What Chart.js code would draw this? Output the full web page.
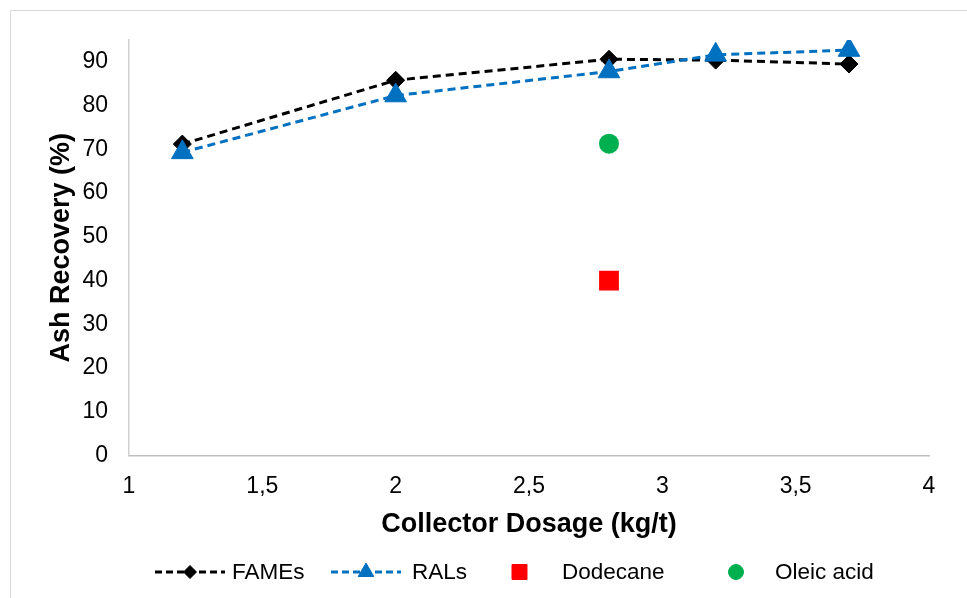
<!DOCTYPE html>
<html>
<head>
<meta charset="utf-8">
<script src="https://cdn.jsdelivr.net/npm/chart.js@4.4.1/dist/chart.umd.min.js"></script>
<style>
  html, body { margin: 0; padding: 0; background: #ffffff; }
  #wrap { width: 967px; height: 598px; position: relative; }
</style>
</head>
<body>
<div id="wrap"><canvas id="chart" width="967" height="598"></canvas></div>
<script>
// Collector dosage (kg/t) and ash recovery (%) per collector
const famesDosage = [1.2, 2.0, 2.8, 3.2, 3.7];
const famesRecovery = [71.2, 85.8, 90.6, 90.4, 89.5];
const ralsDosage = [1.2, 2.0, 2.8, 3.2, 3.7];
const ralsRecovery = [69.3, 82.3, 87.8, 91.6, 92.7];
const dodecaneDosage = [2.8];
const dodecaneRecovery = [40];
const oleicDosage = [2.8];
const oleicRecovery = [71.3];

const xTicks = [1, 1.5, 2, 2.5, 3, 3.5, 4];
const yTicks = [0, 10, 20, 30, 40, 50, 60, 70, 80, 90];

const FONT = "'Liberation Sans', Arial, sans-serif";
const BLACK = '#000000';
const BLUE = '#0070C0';
const RED = '#FF0000';
const GREEN = '#00B050';

const toPoints = (xs, ys) => xs.map((x, i) => ({ x: x, y: ys[i] }));

// Outer frame of the chart
const framePlugin = {
  id: 'frame',
  beforeDraw(chart) {
    const ctx = chart.ctx;
    ctx.save();
    ctx.fillStyle = '#ffffff';
    ctx.fillRect(0, 0, chart.width, chart.height);
    ctx.strokeStyle = '#d9d9d9';
    ctx.lineWidth = 1;
    ctx.strokeRect(10.5, 10.5, chart.width + 20, chart.height + 20);
    ctx.restore();
  }
};

// Legend row below the axis title
const legendPlugin = {
  id: 'bottomLegend',
  afterDraw(chart) {
    const ctx = chart.ctx;
    const y = 572;
    const items = [
      { ds: 0, line: true, cx: 190, tx: 232, r: 6.5 },
      { ds: 1, line: true, cx: 366, tx: 412, r: 9 },
      { ds: 2, line: false, cx: 519.5, tx: 562, r: 10.6 },
      { ds: 3, line: false, cx: 736, tx: 775, r: 7.5 }
    ];
    ctx.save();
    items.forEach(it => {
      const d = chart.data.datasets[it.ds];
      if (it.line) {
        ctx.save();
        ctx.strokeStyle = d.borderColor;
        ctx.lineWidth = 3;
        ctx.setLineDash([7, 4]);
        ctx.beginPath();
        ctx.moveTo(it.cx - 35, y);
        ctx.lineTo(it.cx + 35, y);
        ctx.stroke();
        ctx.restore();
      }
      ctx.save();
      ctx.fillStyle = d.pointBackgroundColor;
      ctx.strokeStyle = d.pointBorderColor;
      ctx.lineWidth = 1;
      Chart.helpers.drawPoint(ctx, { pointStyle: d.pointStyle, radius: it.r, borderWidth: 1, rotation: 0 }, it.cx, y);
      ctx.restore();
      ctx.fillStyle = BLACK;
      ctx.font = '22.5px ' + FONT;
      ctx.textAlign = 'left';
      ctx.textBaseline = 'middle';
      ctx.fillText(d.label, it.tx, y + 1);
    });
    ctx.restore();
  }
};

new Chart(document.getElementById('chart'), {
  type: 'scatter',
  data: {
    datasets: [
      {
        label: 'FAMEs',
        data: toPoints(famesDosage, famesRecovery),
        showLine: true,
        borderColor: BLACK,
        borderWidth: 3,
        borderDash: [8, 5],
        pointStyle: 'rectRot',
        pointRadius: 9,
        pointBackgroundColor: BLACK,
        pointBorderColor: BLACK,
        pointBorderWidth: 1,
        order: 4
      },
      {
        label: 'RALs',
        data: toPoints(ralsDosage, ralsRecovery),
        showLine: true,
        borderColor: BLUE,
        borderWidth: 3,
        borderDash: [8, 5],
        pointStyle: 'triangle',
        pointRadius: 12.5,
        pointBackgroundColor: BLUE,
        pointBorderColor: BLUE,
        pointBorderWidth: 1,
        order: 3
      },
      {
        label: 'Dodecane',
        data: toPoints(dodecaneDosage, dodecaneRecovery),
        showLine: false,
        pointStyle: 'rect',
        pointRadius: 14,
        pointBackgroundColor: RED,
        pointBorderColor: RED,
        pointBorderWidth: 0,
        order: 2
      },
      {
        label: 'Oleic acid',
        data: toPoints(oleicDosage, oleicRecovery),
        showLine: false,
        pointStyle: 'circle',
        pointRadius: 10,
        pointBackgroundColor: GREEN,
        pointBorderColor: GREEN,
        pointBorderWidth: 0,
        order: 1
      }
    ]
  },
  options: {
    responsive: false,
    animation: false,
    devicePixelRatio: 1,
    layout: { padding: { left: 48, right: 38, top: 40, bottom: 60 } },
    plugins: {
      legend: { display: false },
      tooltip: { enabled: false }
    },
    scales: {
      x: {
        type: 'linear',
        min: 1,
        max: 4,
        afterBuildTicks(scale) { scale.ticks = xTicks.map(v => ({ value: v })); },
        afterFit(scale) { scale.height = 82.5; },
        ticks: {
          color: BLACK,
          padding: 17,
          font: { family: FONT, size: 23 },
          callback: v => String(v).replace('.', ',')
        },
        grid: { display: false, drawTicks: false },
        border: { display: true, color: '#bfbfbf', width: 1.5 },
        title: {
          display: true,
          text: 'Collector Dosage (kg/t)',
          color: BLACK,
          padding: 0,
          font: { family: FONT, size: 27, weight: 'bold', lineHeight: 1 }
        }
      },
      y: {
        type: 'linear',
        min: 0,
        max: 95,
        afterBuildTicks(scale) { scale.ticks = yTicks.map(v => ({ value: v })); },
        afterFit(scale) { scale.width = 81; },
        ticks: {
          color: BLACK,
          padding: 21,
          font: { family: FONT, size: 23 }
        },
        grid: { display: false, drawTicks: false },
        border: { display: true, color: '#d0d0d0', width: 1.5 },
        title: {
          display: true,
          text: 'Ash Recovery (%)',
          color: BLACK,
          padding: 0,
          font: { family: FONT, size: 27, weight: 'bold', lineHeight: 1 }
        }
      }
    }
  },
  plugins: [framePlugin, legendPlugin]
});
</script>
</body>
</html>
